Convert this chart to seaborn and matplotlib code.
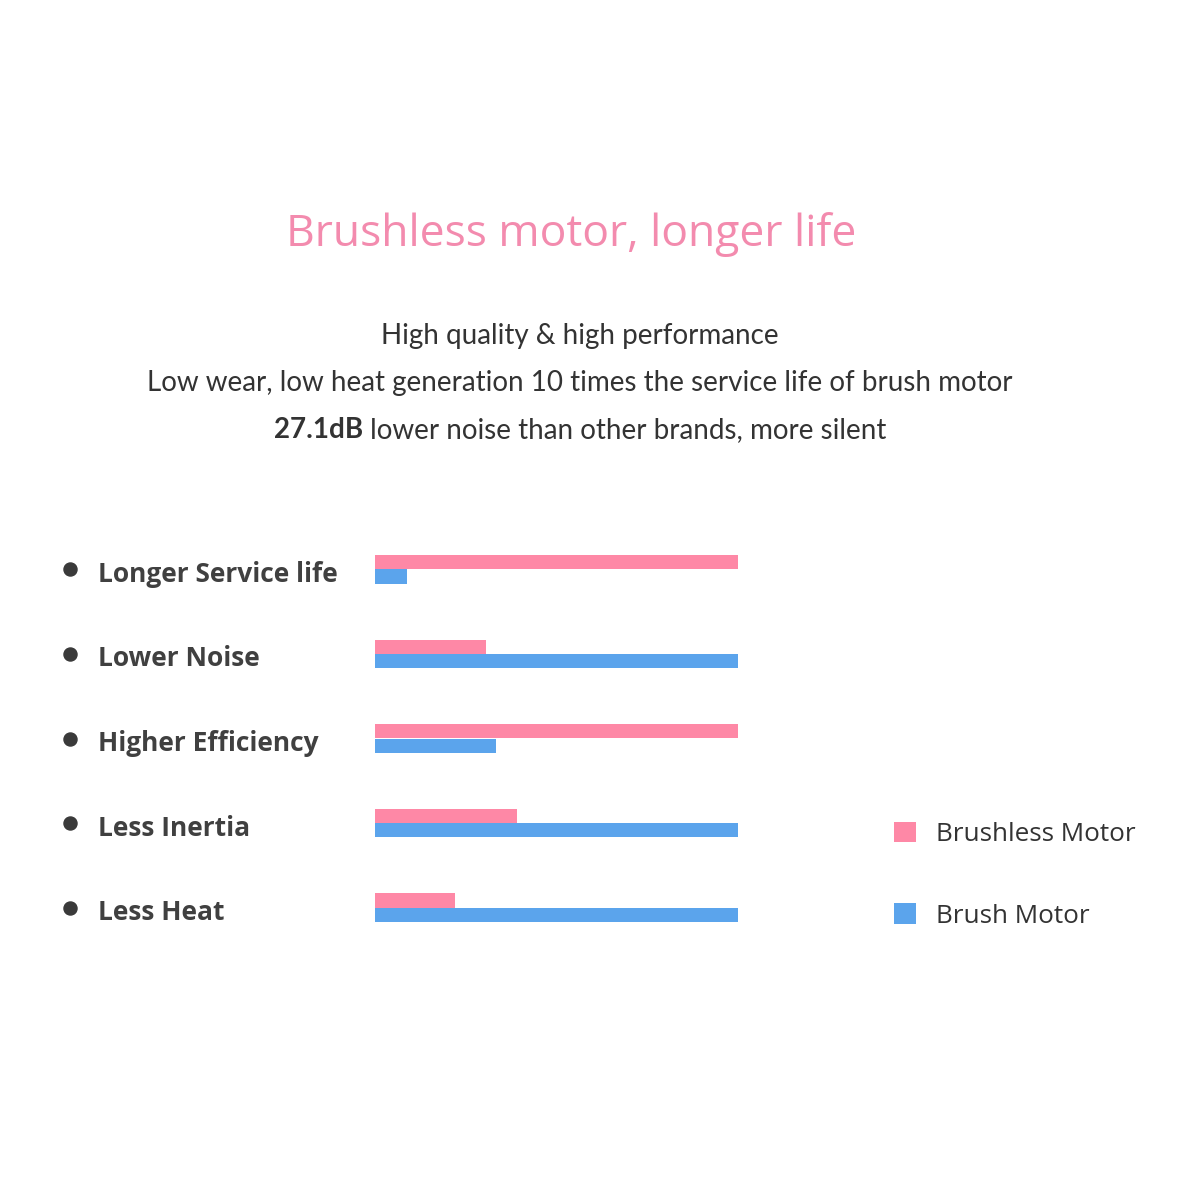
import matplotlib
matplotlib.use("Agg")
import matplotlib.pyplot as plt
import matplotlib.transforms as mtransforms
import seaborn as sns
import pandas as pd

# ---- data ----
features = ["Longer Service life", "Lower Noise", "Higher Efficiency", "Less Inertia", "Less Heat"]
brushless = [100, 30.6, 100, 39.2, 22.1]
brush = [8.7, 100, 33.4, 100, 100]
motors = ["Brushless Motor", "Brush Motor"]

title = "Brushless motor, longer life"
sub_lines = ["High quality & high performance",
             "Low wear, low heat generation 10 times the service life of brush motor"]
sub_bold = "27.1dB"
sub_rest = " lower noise than other brands, more silent"

PINK = "#FE88A6"
BLUE = "#5BA4EC"
TITLE_PINK = "#F38BAE"
DARK = "#333333"

df = pd.DataFrame({
    "feature": features * 2,
    "value": brushless + brush,
    "motor": [motors[0]] * len(features) + [motors[1]] * len(features),
})

sns.set_theme(style="white")
plt.rcParams["font.family"] = ["Open Sans", "DejaVu Sans"]
SUBFONT = ["Lato", "DejaVu Sans"]

W = 1180
fig = plt.figure(figsize=(11.8, 11.8), dpi=100)
fig.patch.set_facecolor("white")

ax = fig.add_axes([375 / W, 1 - 950 / W, (738 - 375) / W, 423 / W])
sns.barplot(data=df, y="feature", x="value", hue="motor", hue_order=motors,
            order=features, palette=[PINK, BLUE], orient="h", width=0.34,
            saturation=1, linewidth=0, ax=ax)

trans = mtransforms.blended_transform_factory(fig.transFigure, ax.transData)
for i, lab in enumerate(features):
    ax.text(98 / W, i + 0.06, lab, transform=trans, ha="left", va="center",
            fontsize=19, fontweight="bold", color="#404040")
ax.plot([70 / W] * len(features), list(range(len(features))), "o", transform=trans,
        ms=9.4, color="#3a3a3a", clip_on=False)

ax.set_xlim(0, 100)
ax.set_ylim(len(features) - 0.5, -0.5)
ax.axis("off")

sns.move_legend(ax, "upper left", bbox_to_anchor=(870 / W, 1 - 798 / W),
                bbox_transform=fig.transFigure, frameon=False, title=None,
                fontsize=18.8, handlelength=0.86, handleheight=0.86,
                handletextpad=0.78, labelspacing=2.15)
for t in ax.get_legend().get_texts():
    t.set_color(DARK)

fig.text(571 / W, 1 - 235 / W, title, ha="center", va="center",
         fontsize=32, color=TITLE_PINK)
for k, line in enumerate(sub_lines):
    fig.text(580 / W, 1 - (336 + 47 * k) / W, line, ha="center", va="center",
             fontsize=20, color=DARK, family=SUBFONT)
t1 = fig.text(271 / W, 1 - 430 / W, sub_bold, ha="left", va="center",
              fontsize=20, color=DARK, fontweight="bold", family=SUBFONT)
t2 = ax.annotate(sub_rest, xy=(1, 0), xycoords=t1, ha="left", va="bottom",
                 fontsize=20, color=DARK, family=SUBFONT, annotation_clip=False)

# centre the two-part third line on the same axis as the other lines
fig.canvas.draw()
r = fig.canvas.get_renderer()
b1 = t1.get_window_extent(r)
b2 = t2.get_window_extent(r)
total = b2.x1 - b1.x0
t1.set_x((580 - total / 2) / W)

fig.savefig("out.png", dpi=100, facecolor="white")
